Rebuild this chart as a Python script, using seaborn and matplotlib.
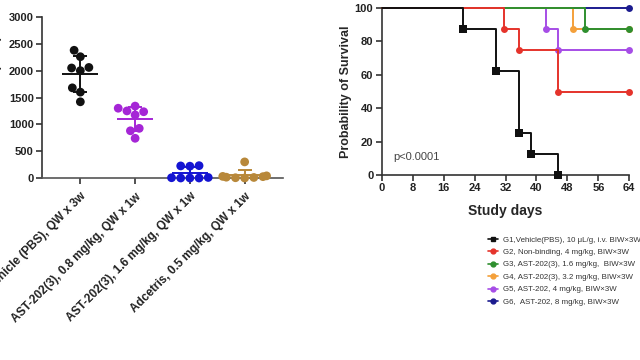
import numpy as np
import pandas as pd
import matplotlib
matplotlib.use('Agg')
import matplotlib.pyplot as plt
from matplotlib.lines import Line2D
import seaborn as sns

# Volumen tumoral por grupo (panel izquierdo)
grupos = ["Vehicle (PBS), QW x 3w", "AST-202(3), 0.8 mg/kg, QW x 1w",
          "AST-202(3), 1.6 mg/kg, QW x 1w", "Adcetris, 0.5 mg/kg, QW x 1w"]
vol_g1 = [2380, 2260, 2050, 2000, 2060, 1680, 1600, 1420]
vol_g2 = [1235, 1175, 1250, 1340, 1300, 925, 880, 740]
vol_g3 = [225, 230, 220, 0, 5, 0, 10, 0]
vol_g4 = [300, 0, 15, 30, 5, 25, 10, 40]
colores_vol = ["#111111", "#a526d6", "#1414d2", "#b8883a"]

# Supervivencia (panel derecho)
dias_g1 = [0, 21, 29.5, 35.5, 38.5, 45.5]
surv_g1 = [100, 87.5, 62.5, 25, 12.5, 0]
dias_g2 = [0, 31.5, 35.5, 45.5, 64]
surv_g2 = [100, 87.5, 75, 50, 50]
dias_g3 = [0, 52.5, 64]
surv_g3 = [100, 87.5, 87.5]
dias_g4 = [0, 49.5, 64]
surv_g4 = [100, 87.5, 87.5]
dias_g5 = [0, 42.5, 45.5, 64]
surv_g5 = [100, 87.5, 75, 75]
dias_g6 = [0, 64]
surv_g6 = [100, 100]
etiquetas_surv = ["G1,Vehicle(PBS), 10 \u03bcL/g, i.v. BIW\u00d73W",
                  "G2, Non-binding, 4 mg/kg, BIW\u00d73W",
                  "G3, AST-202(3), 1.6 mg/kg,  BIW\u00d73W",
                  "G4, AST-202(3), 3.2 mg/kg, BIW\u00d73W",
                  "G5, AST-202, 4 mg/kg, BIW\u00d73W",
                  "G6,  AST-202, 8 mg/kg, BIW\u00d73W"]
colores_surv = ["#111111", "#e5332b", "#2f8f2f", "#f4a03a", "#a64de6", "#1b1b8f"]

sns.set_theme(style="ticks")
plt.rcParams['font.family'] = ['Liberation Sans', 'DejaVu Sans']

fig = plt.figure(figsize=(6.4, 3.6), dpi=100)
ax1 = fig.add_axes([42/640, 1-178/360, 241/640, 161/360])
ax2 = fig.add_axes([381.7/640, 1-175/360, 247.6/640, 167/360])

# --- Panel izquierdo ---
df = pd.DataFrame({
    "grupo": np.repeat(grupos, 8),
    "vol": vol_g1 + vol_g2 + vol_g3 + vol_g4,
})
sns.swarmplot(data=df, x="grupo", y="vol", hue="grupo", palette=colores_vol,
              size=6.3, legend=False, ax=ax1, zorder=3)
for col in ax1.collections:
    col.set_clip_on(False)

resumen = df.groupby("grupo", sort=False)["vol"].agg(["mean", "std"])
for i, (g, fila) in enumerate(resumen.iterrows()):
    c = colores_vol[i]
    ax1.hlines(fila["mean"], i - 0.33, i + 0.33, color=c, lw=1.4, zorder=4)
    ax1.errorbar(i, fila["mean"], yerr=fila["std"], color=c, lw=1.4,
                 capsize=5, capthick=1.4, zorder=4)

ax1.set_xlim(-0.7, 3.7)
ax1.set_ylim(0, 3000)
ax1.set_yticks(range(0, 3001, 500))
ax1.set_xlabel("")
ax1.set_ylabel("Tumor Volume (mm\u00b3)", fontsize=9, fontweight="bold")
ax1.yaxis.set_label_coords(-0.165, 0.5)
ax1.set_xticks(range(4))
ax1.set_xticklabels(grupos, rotation=45, ha="right", rotation_mode="anchor",
                    fontsize=8.5, fontweight="bold", color="#222222")
for lab in ax1.get_yticklabels():
    lab.set_fontweight("bold")
    lab.set_fontsize(8)
    lab.set_color("#222222")
sns.despine(ax=ax1)
ax1.spines["left"].set_color("#333333")
ax1.spines["bottom"].set_color("#555555")
for s in ax1.spines.values():
    s.set_linewidth(1.2)
ax1.tick_params(width=1.2, length=4, color="#333333", pad=2)
ax1.tick_params(axis="x", pad=5)

# --- Panel derecho ---
dias = [dias_g1, dias_g2, dias_g3, dias_g4, dias_g5, dias_g6]
survs = [surv_g1, surv_g2, surv_g3, surv_g4, surv_g5, surv_g6]
marcadores = ["s", "o", "o", "o", "o", "o"]
for k in reversed(range(6)):
    n = len(dias[k])
    sns.lineplot(x=dias[k], y=survs[k], drawstyle="steps-post", color=colores_surv[k],
                 lw=1.4, marker=marcadores[k], markersize=5 if k else 6,
                 markeredgewidth=0, markevery=list(range(1, n)), clip_on=False,
                 ax=ax2, zorder=3 + (6 - k))

ax2.set_xlim(0, 64)
ax2.set_ylim(0, 100)
ax2.set_xticks(range(0, 65, 8))
ax2.set_yticks(range(0, 101, 20))
ax2.set_xlabel("Study days", fontsize=10, fontweight="bold", labelpad=8)
ax2.set_ylabel("Probability of Survival", fontsize=9, fontweight="bold", labelpad=2)
for lab in ax2.get_xticklabels() + ax2.get_yticklabels():
    lab.set_fontweight("bold")
    lab.set_fontsize(8)
    lab.set_color("#222222")
sns.despine(ax=ax2)
for s in ax2.spines.values():
    s.set_linewidth(1.2)
    s.set_color("#333333")
ax2.tick_params(width=1.2, length=4, color="#333333", pad=2)
ax2.text(3, 9, "p<0.0001", fontsize=8, color="#444444")

handles = [Line2D([], [], color=colores_surv[k], lw=1.2, marker=marcadores[k], markersize=3.5)
           for k in range(6)]
fig.legend(handles, etiquetas_surv, loc="upper left", bbox_to_anchor=(488/640, 1-236/360),
           frameon=False, fontsize=5.7, handlelength=1.3, handletextpad=0.6,
           labelspacing=0.62, borderpad=0, borderaxespad=0, labelcolor="#333333")

fig.savefig("out.png", dpi=100)
